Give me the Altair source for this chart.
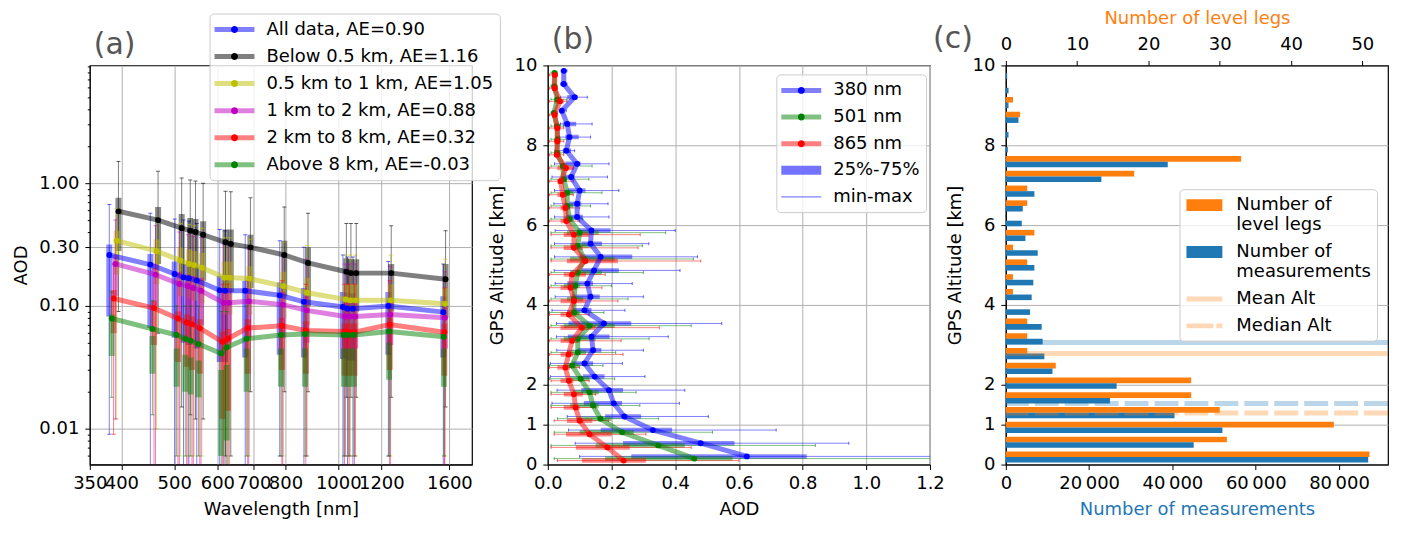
import altair as alt
import pandas as pd

FONT = "DejaVu Sans"

# ---------------- (a) AOD spectra per altitude range ----------------
wavelength = [380, 452, 501, 520, 532, 550, 606, 620, 675, 781, 865, 1020, 1040, 1064, 1236, 1559]
alt_ranges = ["All data", "Below 0.5 km", "0.5 km to 1 km", "1 km to 2 km", "2 km to 8 km", "Above 8 km"]
angstrom = ["0.90", "1.16", "1.05", "0.88", "0.32", "-0.03"]

med_all = [0.26, 0.217, 0.182, 0.171, 0.168, 0.161, 0.134, 0.133, 0.133, 0.122, 0.108, 0.098, 0.095, 0.095, 0.100, 0.089]
q25_all = [0.082, 0.066, 0.055, 0.050, 0.048, 0.045, 0.035, 0.035, 0.038, 0.040, 0.038, 0.037, 0.036, 0.036, 0.040, 0.038]
q75_all = [0.316, 0.265, 0.230, 0.220, 0.215, 0.205, 0.175, 0.170, 0.160, 0.155, 0.140, 0.130, 0.128, 0.127, 0.130, 0.120]
min_all = [0.009, 0.004, 0.004, 0.004, 0.004, 0.004, 0.004, 0.004, 0.004, 0.006, 0.004, 0.004, 0.004, 0.004, 0.006, 0.004]
max_all = [0.67, 0.57, 0.51, 0.50, 0.49, 0.47, 0.42, 0.41, 0.38, 0.34, 0.30, 0.26, 0.25, 0.25, 0.23, 0.22]

med_b05 = [0.59, 0.50, 0.43, 0.41, 0.40, 0.38, 0.33, 0.32, 0.30, 0.26, 0.224, 0.19, 0.185, 0.185, 0.185, 0.165]
q25_b05 = [0.28, 0.22, 0.17, 0.17, 0.16, 0.16, 0.14, 0.13, 0.14, 0.12, 0.10, 0.09, 0.09, 0.09, 0.09, 0.08]
q75_b05 = [0.76, 0.64, 0.56, 0.52, 0.51, 0.49, 0.42, 0.42, 0.38, 0.34, 0.30, 0.245, 0.24, 0.24, 0.22, 0.22]
min_b05 = [0.09, 0.06, 0.015, 0.013, 0.012, 0.012, 0.006, 0.006, 0.02, 0.02, 0.02, 0.018, 0.018, 0.018, 0.018, 0.015]
max_b05 = [1.5, 1.25, 1.1, 1.06, 1.04, 1.0, 0.86, 0.85, 0.76, 0.64, 0.57, 0.47, 0.47, 0.47, 0.45, 0.41]

med_05_1 = [0.34, 0.28, 0.235, 0.22, 0.215, 0.205, 0.17, 0.17, 0.167, 0.145, 0.128, 0.113, 0.111, 0.111, 0.111, 0.104]
q25_05_1 = [0.18, 0.15, 0.12, 0.115, 0.11, 0.105, 0.085, 0.085, 0.085, 0.08, 0.07, 0.065, 0.065, 0.065, 0.065, 0.06]
q75_05_1 = [0.41, 0.35, 0.30, 0.29, 0.28, 0.27, 0.23, 0.23, 0.21, 0.19, 0.17, 0.15, 0.15, 0.15, 0.15, 0.14]
min_05_1 = [0.012, 0.010, 0.006, 0.006, 0.006, 0.006, 0.004, 0.004, 0.006, 0.006, 0.006, 0.006, 0.006, 0.006, 0.006, 0.006]
max_05_1 = [0.62, 0.52, 0.47, 0.46, 0.45, 0.43, 0.36, 0.36, 0.35, 0.33, 0.31, 0.26, 0.26, 0.26, 0.26, 0.24]

med_1_2 = [0.22, 0.18, 0.151, 0.145, 0.14, 0.133, 0.106, 0.106, 0.109, 0.1025, 0.092, 0.082, 0.082, 0.082, 0.085, 0.08]
q25_1_2 = [0.12, 0.10, 0.08, 0.075, 0.072, 0.07, 0.05, 0.05, 0.055, 0.055, 0.05, 0.045, 0.045, 0.045, 0.048, 0.045]
q75_1_2 = [0.26, 0.22, 0.19, 0.18, 0.175, 0.17, 0.14, 0.14, 0.14, 0.13, 0.12, 0.105, 0.105, 0.105, 0.11, 0.10]
min_1_2 = [0.012, 0.004, 0.004, 0.004, 0.004, 0.004, 0.004, 0.004, 0.004, 0.005, 0.006, 0.006, 0.006, 0.006, 0.004, 0.005]
max_1_2 = [0.50, 0.45, 0.40, 0.38, 0.37, 0.36, 0.32, 0.31, 0.29, 0.26, 0.24, 0.22, 0.22, 0.22, 0.21, 0.19]

med_2_8 = [0.115, 0.096, 0.079, 0.073, 0.071, 0.066, 0.051, 0.054, 0.066, 0.069, 0.063, 0.062, 0.061, 0.061, 0.0705, 0.061]
q25_2_8 = [0.06, 0.048, 0.035, 0.032, 0.03, 0.028, 0.012, 0.014, 0.028, 0.03, 0.028, 0.027, 0.027, 0.027, 0.03, 0.027]
q75_2_8 = [0.135, 0.11, 0.09, 0.085, 0.082, 0.078, 0.062, 0.065, 0.078, 0.08, 0.075, 0.072, 0.072, 0.072, 0.08, 0.072]
min_2_8 = [0.009, 0.004, 0.004, 0.004, 0.004, 0.004, 0.004, 0.004, 0.004, 0.004, 0.004, 0.004, 0.004, 0.004, 0.004, 0.004]
max_2_8 = [0.22, 0.20, 0.18, 0.17, 0.17, 0.16, 0.15, 0.15, 0.16, 0.16, 0.15, 0.15, 0.15, 0.15, 0.16, 0.14]

med_a8 = [0.079, 0.065, 0.058, 0.054, 0.052, 0.049, 0.041, 0.046, 0.054, 0.058, 0.059, 0.058, 0.058, 0.058, 0.062, 0.056]
q25_a8 = [0.039, 0.028, 0.022, 0.02, 0.019, 0.018, 0.006, 0.008, 0.02, 0.022, 0.022, 0.022, 0.022, 0.022, 0.025, 0.022]
q75_a8 = [0.085, 0.057, 0.045, 0.04, 0.038, 0.036, 0.03, 0.033, 0.045, 0.045, 0.045, 0.045, 0.045, 0.045, 0.05, 0.045]
min_a8 = [0.018, 0.013, 0.006, 0.006, 0.006, 0.006, 0.004, 0.004, 0.006, 0.006, 0.006, 0.006, 0.006, 0.006, 0.006, 0.006]
max_a8 = [0.13, 0.11, 0.10, 0.10, 0.10, 0.10, 0.09, 0.09, 0.10, 0.10, 0.10, 0.10, 0.10, 0.10, 0.11, 0.10]

# ---------------- (b) AOD profiles ----------------
alt_bin_b = [0.17, 0.5, 0.83, 1.17, 1.5, 1.83, 2.17, 2.5, 2.83, 3.17, 3.5, 3.83, 4.17, 4.5, 4.83,
             5.17, 5.5, 5.83, 6.17, 6.5, 6.83, 7.17, 7.5, 7.83, 8.17, 8.5, 8.83, 9.17, 9.5, 9.83]
prof_wl = ["380 nm", "501 nm", "865 nm"]

med_380 = [0.625, 0.48, 0.33, 0.24, 0.207, 0.192, 0.147, 0.115, 0.142, 0.137, 0.176, 0.115, 0.134, 0.124, 0.145,
           0.166, 0.134, 0.137, 0.092, 0.092, 0.10, 0.073, 0.092, 0.058, 0.068, 0.061, 0.044, 0.084, 0.050, 0.050]
q25_380 = [0.262, 0.236, 0.166, 0.18, 0.113, 0.105, 0.11, 0.076, 0.094, 0.063, 0.065, 0.079, 0.079, 0.061, 0.105,
           0.10, 0.105, 0.094, 0.058, 0.068, 0.063, 0.055, 0.055, 0.047, 0.055, 0.047, 0.04, 0.061, 0.042, 0.044]
q75_380 = [0.813, 0.586, 0.39, 0.293, 0.233, 0.236, 0.178, 0.142, 0.168, 0.194, 0.262, 0.137, 0.163, 0.142, 0.223,
           0.265, 0.17, 0.197, 0.11, 0.105, 0.118, 0.084, 0.103, 0.073, 0.097, 0.089, 0.05, 0.094, 0.058, 0.058]
min_380 = [0.10, 0.086, 0.065, 0.061, 0.013, 0.029, 0.008, 0.008, 0.028, 0.027, 0.027, 0.013, 0.023, 0.023, 0.02,
           0.021, 0.021, 0.023, 0.021, 0.019, 0.021, 0.013, 0.021, 0.023, 0.037, 0.04, 0.037, 0.04, 0.04, 0.042]
max_380 = [1.3, 0.945, 0.717, 0.504, 0.413, 0.43, 0.305, 0.234, 0.30, 0.378, 0.546, 0.242, 0.30, 0.265, 0.415,
           0.47, 0.317, 0.40, 0.192, 0.189, 0.223, 0.187, 0.192, 0.084, 0.134, 0.139, 0.058, 0.124, 0.06, 0.06]

med_501 = [0.46, 0.347, 0.233, 0.165, 0.142, 0.131, 0.103, 0.076, 0.094, 0.094, 0.131, 0.082, 0.082, 0.086, 0.094,
           0.115, 0.094, 0.10, 0.068, 0.061, 0.061, 0.05, 0.047, 0.029, 0.03, 0.029, 0.019, 0.03, 0.02, 0.021]
q25_501 = [0.18, 0.15, 0.10, 0.09, 0.07, 0.08, 0.07, 0.05, 0.06, 0.05, 0.05, 0.06, 0.06, 0.05, 0.07,
           0.07, 0.07, 0.06, 0.05, 0.05, 0.05, 0.04, 0.04, 0.02, 0.025, 0.02, 0.015, 0.02, 0.015, 0.015]
q75_501 = [0.58, 0.43, 0.27, 0.20, 0.16, 0.16, 0.13, 0.10, 0.12, 0.15, 0.21, 0.10, 0.11, 0.10, 0.17,
           0.21, 0.13, 0.16, 0.08, 0.08, 0.08, 0.06, 0.06, 0.04, 0.04, 0.04, 0.025, 0.04, 0.025, 0.025]
min_501 = [0.02, 0.01, 0.02, 0.03, 0.01, 0.01, 0.005, 0.005, 0.01, 0.01, 0.01, 0.005, 0.01, 0.01, 0.01,
           0.01, 0.01, 0.01, 0.01, 0.01, 0.01, 0.01, 0.01, 0.01, 0.01, 0.01, 0.01, 0.01, 0.01, 0.01]
max_501 = [1.3, 0.84, 0.517, 0.347, 0.289, 0.277, 0.21, 0.173, 0.213, 0.318, 0.45, 0.176, 0.252, 0.20, 0.30,
           0.457, 0.297, 0.37, 0.11, 0.134, 0.17, 0.129, 0.139, 0.05, 0.06, 0.05, 0.03, 0.06, 0.03, 0.03]

med_865 = [0.238, 0.187, 0.131, 0.10, 0.087, 0.082, 0.066, 0.055, 0.065, 0.076, 0.107, 0.066, 0.082, 0.071, 0.076,
           0.118, 0.082, 0.082, 0.058, 0.055, 0.047, 0.040, 0.057, 0.028, 0.03, 0.03, 0.021, 0.038, 0.021, 0.022]
q25_865 = [0.107, 0.088, 0.057, 0.06, 0.05, 0.05, 0.04, 0.03, 0.04, 0.04, 0.04, 0.04, 0.04, 0.04, 0.05,
           0.06, 0.05, 0.05, 0.04, 0.04, 0.03, 0.03, 0.03, 0.02, 0.02, 0.02, 0.015, 0.02, 0.015, 0.015]
q75_865 = [0.308, 0.257, 0.20, 0.14, 0.10, 0.11, 0.08, 0.07, 0.08, 0.10, 0.15, 0.09, 0.12, 0.09, 0.12,
           0.22, 0.11, 0.13, 0.07, 0.07, 0.06, 0.05, 0.08, 0.04, 0.04, 0.04, 0.025, 0.05, 0.025, 0.025]
min_865 = [0.03, 0.01, 0.02, 0.02, 0.01, 0.01, 0.01, 0.005, 0.005, 0.005, 0.005, 0.005, 0.005, 0.005, 0.005,
           0.01, 0.01, 0.01, 0.005, 0.005, 0.005, 0.005, 0.005, 0.005, 0.005, 0.005, 0.005, 0.005, 0.005, 0.005]
max_865 = [0.60, 0.45, 0.308, 0.19, 0.15, 0.15, 0.13, 0.10, 0.236, 0.23, 0.35, 0.13, 0.22, 0.17, 0.18,
           0.48, 0.283, 0.29, 0.10, 0.10, 0.08, 0.08, 0.08, 0.05, 0.05, 0.05, 0.03, 0.06, 0.03, 0.03]

# ---------------- (c) sampling statistics ----------------
alt_bin_c = [0.19, 0.56, 0.93, 1.30, 1.67, 2.04, 2.41, 2.78, 3.15, 3.52, 3.89, 4.26, 4.63, 5.00,
             5.37, 5.74, 6.11, 6.48, 6.85, 7.22, 7.59, 7.96, 8.33, 8.70, 9.07, 9.44, 9.81]
level_legs = [51, 31, 46, 30, 26, 26, 7, 3, 3, 3, 0, 1, 1, 3, 1, 4, 0, 3, 3, 18, 33, 0, 0, 2, 1, 0, 0]
n_measurements = [87000, 45100, 52000, 40500, 25000, 26600, 11200, 9250, 8840, 8600, 5800, 6200, 6600, 6850,
                  7650, 4700, 3820, 4060, 6860, 22940, 38870, 480, 640, 3030, 640, 640, 320]
mean_alt_meas, mean_alt_legs = 3.06, 2.78
median_alt_meas, median_alt_legs = 1.53, 1.29

ORANGE, BLUE = "#ff7f0e", "#1f77b4"

# legend symbol paths (scaled by symbolSize)
SYM_SIZE = 400
LINE_SYM = "M-2,-0.25H2V0.25H-2Z"
DOT_SYM = "M0.35,0A0.35,0.35,0,1,1,-0.35,0A0.35,0.35,0,1,1,0.35,0Z"
BOX_SYM = "M-2,-0.45H2V0.45H-2Z"
THIN_SYM = "M-2,-0.06H2V0.06H-2Z"
PATCH_SYM = "M-1.8,-0.6H1.8V0.6H-1.8Z"
BAND_SYM = "M-1.8,-0.25H1.8V0.25H-1.8Z"
DASH_SYM = "M-1.8,-0.25H0.9V0.25H-1.8Z M1.2,-0.25H1.8V0.25H1.2Z"


def legend_layers(labels, faded, shapes, dots, lx, ly, row_pad, label_expr=""):
    """Two stacked legends: faded line/patch symbols with labels, opaque dots on top."""
    common = dict(orient="none", legendX=lx, legendY=ly, title=None, symbolSize=SYM_SIZE,
                  symbolOffset=9, labelOffset=22, padding=6, rowPadding=row_pad,
                  labelFontSize=18, labelLimit=400, symbolStrokeWidth=0, symbolOpacity=1)
    if label_expr:
        common["labelExpr"] = label_expr
    # the dot legend gets its own (hidden) labels so that it is not merged with the line legend
    dot_labels = [lab + " " for lab in labels]
    df = pd.DataFrame({"item": labels, "item2": dot_labels})
    back = alt.Chart(df).mark_point(filled=True, opacity=0).encode(
        color=alt.Color("item:N", scale=alt.Scale(domain=labels, range=faded),
                        legend=alt.Legend(fillColor="rgba(255,255,255,0.8)", strokeColor="#cccccc",
                                          cornerRadius=4, **common)),
        shape=alt.Shape("item:N", scale=alt.Scale(domain=labels, range=shapes),
                        legend=alt.Legend(fillColor="rgba(255,255,255,0.8)", strokeColor="#cccccc",
                                          cornerRadius=4, **common)),
    )
    layers = [back]
    if dots:
        front = alt.Chart(df).mark_point(filled=True, opacity=0).encode(
            fill=alt.Fill("item2:N", scale=alt.Scale(domain=dot_labels, range=dots),
                          legend=alt.Legend(symbolType=DOT_SYM, labelOpacity=0, **common)),
        )
        layers.append(front)
    return layers


# ================= panel (a) =================
stats_a = [
    (med_all, q25_all, q75_all, min_all, max_all),
    (med_b05, q25_b05, q75_b05, min_b05, max_b05),
    (med_05_1, q25_05_1, q75_05_1, min_05_1, max_05_1),
    (med_1_2, q25_1_2, q75_1_2, min_1_2, max_1_2),
    (med_2_8, q25_2_8, q75_2_8, min_2_8, max_2_8),
    (med_a8, q25_a8, q75_a8, min_a8, max_a8),
]
colors_a = ["#0000ff", "#000000", "#bfbf00", "#bf00bf", "#ff0000", "#008000"]
faded_a = ["#8080ff", "#808080", "#dfdf80", "#df80df", "#ff8080", "#80c080"]
shift_nm = [0, 15, 12, 10, 7, 4]  # side-by-side offset of each altitude range

rows = []
for name, shift, (med, q25, q75, lo, hi) in zip(alt_ranges, shift_nm, stats_a):
    for i, wl in enumerate(wavelength):
        rows.append({"grp": name, "x": wl + shift, "med": med[i], "q25": q25[i],
                     "q75": q75[i], "lo": lo[i], "hi": hi[i]})
df_a = pd.DataFrame(rows)

xs_a = alt.Scale(type="log", domain=[350, 1760], nice=False, padding=0)
ys_a = alt.Scale(type="log", domain=[0.0051, 9.1], nice=False, padding=0)
x_axis_a = alt.Axis(values=[350, 400, 500, 600, 700, 800, 1000, 1200, 1600], format="d",
                    title="Wavelength [nm]", labelOverlap=False, labelPadding=5)
y_axis_a = alt.Axis(values=[0.01, 0.1, 0.3, 1.0], format=".2f", title="AOD", labelOverlap=False)


def xa():
    return alt.X("x:Q", scale=xs_a, axis=x_axis_a)


def ya(field):
    return alt.Y(f"{field}:Q", scale=ys_a, axis=y_axis_a)


err_a, mid_a = [], []
for name, color in zip(alt_ranges, colors_a):
    base = alt.Chart(df_a).transform_filter(alt.datum.grp == name)
    err_a += [
        base.mark_rule(color=color, opacity=0.5, strokeWidth=1, clip=True).encode(x=xa(), y=ya("lo"), y2="hi:Q"),
        base.mark_tick(color=color, opacity=0.6, orient="horizontal", size=4, thickness=1, clip=True).encode(x=xa(), y=ya("hi")),
        base.mark_tick(color=color, opacity=0.6, orient="horizontal", size=4, thickness=1, clip=True).encode(x=xa(), y=ya("lo")),
        base.mark_rule(color=color, opacity=0.45, strokeWidth=6, clip=True).encode(x=xa(), y=ya("q25"), y2="q75:Q"),
    ]
    mid_a += [
        base.mark_line(color=color, opacity=0.5, strokeWidth=5, clip=True).encode(x=xa(), y=ya("med")),
        base.mark_circle(color=color, opacity=1, size=34, clip=True).encode(x=xa(), y=ya("med")),
    ]

labels_a = [f"{n}, AE={a}" for n, a in zip(alt_ranges, angstrom)]
main_a = alt.layer(*err_a, *mid_a, *legend_layers(labels_a, faded_a, [LINE_SYM] * 6, colors_a, 120, -52, 8.1))

minor_vals = [m * 10.0 ** e for e in range(-3, 1) for m in range(2, 10)]
minor_a = alt.Chart(df_a).mark_point(opacity=0).encode(
    x=xa(),
    y=alt.Y("med:Q", scale=ys_a, axis=alt.Axis(orient="left", values=minor_vals, labels=False, grid=False,
                                               tickSize=2.5, domain=False, title="")),
)
panel_a = alt.layer(main_a, minor_a).resolve_axis(y="independent").properties(
    width=383, height=400,
    title=alt.TitleParams("(a)", anchor="start", frame="group", offset=6, dx=4, dy=53),
)

# ================= panel (b) =================
stats_b = [
    (med_380, q25_380, q75_380, min_380, max_380),
    (med_501, q25_501, q75_501, min_501, max_501),
    (med_865, q25_865, q75_865, min_865, max_865),
]
colors_b = ["#0000ff", "#008000", "#ff0000"]
shift_km = [0.035, -0.02, -0.07]

rows = []
for name, shift, (med, q25, q75, lo, hi) in zip(prof_wl, shift_km, stats_b):
    for i, a in enumerate(alt_bin_b):
        rows.append({"wl": name, "a": a + shift, "med": med[i], "q25": q25[i],
                     "q75": q75[i], "lo": lo[i], "hi": hi[i]})
df_b = pd.DataFrame(rows)

xs_b = alt.Scale(domain=[0, 1.2], nice=False, padding=0)
alt_scale = alt.Scale(domain=[0, 10], nice=False, padding=0)
x_axis_b = alt.Axis(values=[0, 0.2, 0.4, 0.6, 0.8, 1.0, 1.2], format=".1f", title="AOD", labelPadding=5)
alt_axis = alt.Axis(values=[0, 1, 2, 4, 6, 8, 10], format="d", title="GPS Altitude [km]")


def xb(field):
    return alt.X(f"{field}:Q", scale=xs_b, axis=x_axis_b)


def yb():
    return alt.Y("a:Q", scale=alt_scale, axis=alt_axis)


err_b, mid_b = [], []
for name, color in zip(prof_wl, colors_b):
    base = alt.Chart(df_b).transform_filter(alt.datum.wl == name)
    err_b += [
        base.mark_rule(color=color, opacity=0.5, strokeWidth=1, clip=True).encode(x=xb("lo"), x2="hi:Q", y=yb()),
        base.mark_tick(color=color, opacity=0.6, orient="vertical", size=3, thickness=1, clip=True).encode(x=xb("lo"), y=yb()),
        base.mark_tick(color=color, opacity=0.6, orient="vertical", size=3, thickness=1, clip=True).encode(x=xb("hi"), y=yb()),
        base.mark_rule(color=color, opacity=0.45, strokeWidth=4.5, clip=True).encode(x=xb("q25"), x2="q75:Q", y=yb()),
    ]
    mid_b += [
        base.mark_line(color=color, opacity=0.5, strokeWidth=5, clip=True).encode(x=xb("med"), y=yb(), order="a:Q"),
        base.mark_circle(color=color, opacity=1, size=34, clip=True).encode(x=xb("med"), y=yb()),
    ]

labels_b = prof_wl + ["25%-75%", "min-max"]
legend_b = legend_layers(labels_b, ["#8080ff", "#80c080", "#ff8080", "#7373ff", "#8080ff"],
                         [LINE_SYM, LINE_SYM, LINE_SYM, BOX_SYM, THIN_SYM],
                         colors_b + ["transparent", "transparent"], 229, 9, 7.7)
panel_b = alt.layer(*err_b, *mid_b, *legend_b).properties(
    width=383, height=400,
    title=alt.TitleParams("(b)", anchor="start", frame="group", offset=6, dx=4, dy=5),
)

# ================= panel (c) =================
df_c = pd.DataFrame({"a": alt_bin_c, "legs": level_legs, "meas": n_measurements})
yc = alt.Y("y0:Q", scale=alt_scale, axis=alt_axis)

legs_bars = alt.Chart(df_c).transform_calculate(zero="0", y0="datum.a", y1="datum.a + 0.14").mark_rect(color=ORANGE).encode(
    x=alt.X("legs:Q", scale=alt.Scale(domain=[0, 53.6], nice=False, padding=0),
            axis=alt.Axis(orient="top", values=[0, 10, 20, 30, 40, 50], title="Number of level legs",
                          titleColor=ORANGE, grid=False, labelPadding=7)),
    x2="zero:Q", y=yc, y2="y1:Q",
)
meas_bars = alt.Chart(df_c).transform_calculate(zero="0", y0="datum.a - 0.14", y1="datum.a").mark_rect(color=BLUE).encode(
    x=alt.X("meas:Q", scale=alt.Scale(domain=[0, 91760], nice=False, padding=0),
            axis=alt.Axis(values=[0, 20000, 40000, 60000, 80000], title="Number of measurements",
                          titleColor=BLUE, labelPadding=5,
                          labelExpr="replace(format(datum.value, ','), ',', '\u2009')")),
    x2="zero:Q", y=yc, y2="y1:Q",
)
alt_lines = []
for value, color, dash in [(mean_alt_meas, BLUE, [1, 0]), (mean_alt_legs, ORANGE, [1, 0]),
                           (median_alt_meas, BLUE, [24, 6]), (median_alt_legs, ORANGE, [24, 6])]:
    alt_lines.append(
        alt.Chart(pd.DataFrame({"y0": [value]})).mark_rule(color=color, opacity=0.3, strokeWidth=5, strokeDash=dash)
        .encode(y=yc)
    )

labels_c = ["Number of|level legs", "Number of|measurements", "Mean Alt", "Median Alt"]
legend_c = legend_layers(labels_c, [ORANGE, BLUE, "#ffd9b7", "#ffd9b7"],
                         [PATCH_SYM, PATCH_SYM, BAND_SYM, DASH_SYM], None, 174, 124, 8,
                         label_expr="split(datum.label, '|')")
panel_c = alt.layer(legs_bars, meas_bars, *alt_lines, *legend_c).resolve_scale(x="independent").properties(
    width=383, height=400,
    title=alt.TitleParams("(c)", anchor="start", frame="group", offset=6, dx=-73, dy=51),
)

chart = alt.hconcat(panel_a, panel_b, panel_c, spacing=76, bounds="flush").resolve_scale(
    color="independent", shape="independent", fill="independent"
).properties(
    padding={"left": 4, "top": 0, "right": 5, "bottom": 5}
).configure_axis(
    labelFont=FONT, titleFont=FONT, labelFontSize=18, titleFontSize=18, titleFontWeight="normal",
    labelColor="black", titleColor="black", gridColor="#b0b0b0", gridWidth=1, labelFlush=False,
    tickColor="black", tickSize=5, labelPadding=6, titlePadding=8, domainColor="black",
).configure_legend(
    labelFont=FONT, labelColor="black",
).configure_title(
    font=FONT, fontSize=30, color="#555555", fontWeight="normal",
).configure_view(
    stroke="black", strokeWidth=1.2,
)

chart.save("out.html", embed_options={"renderer": "svg", "actions": False})
